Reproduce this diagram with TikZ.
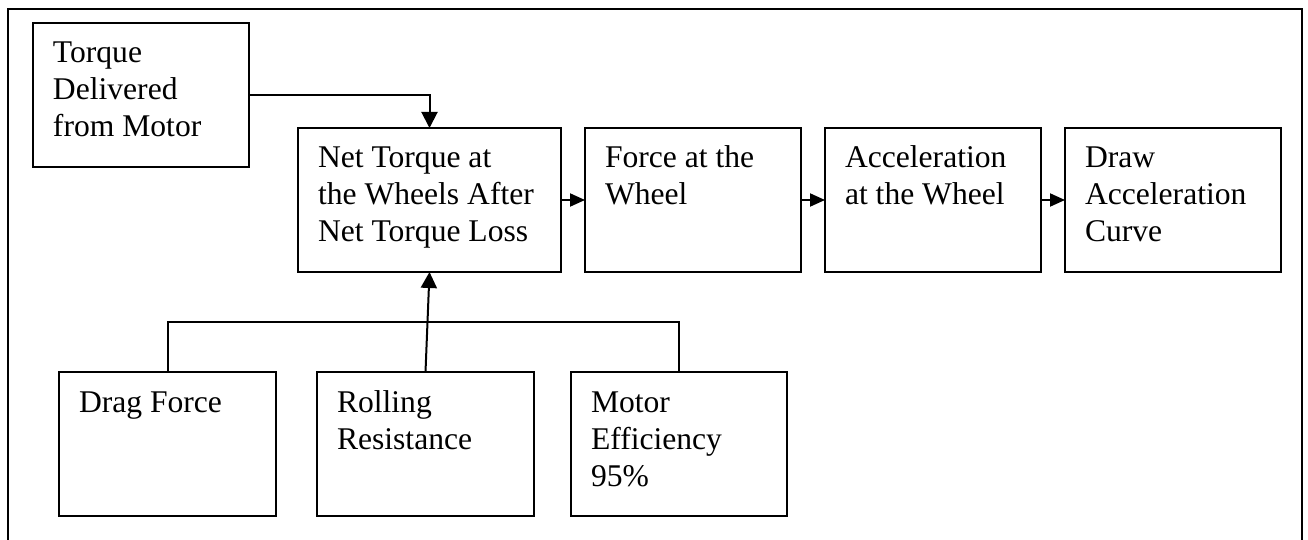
\documentclass[tikz,border=0pt]{standalone}
\usepackage{fontspec}
\setmainfont{Liberation Serif}
\usetikzlibrary{arrows.meta,positioning}

% text set at the top left of a box of fixed height
\newcommand{\boxtext}[2]{\parbox[c][72pt][t]{#1}{\raggedright\rule{0pt}{20pt}#2}}

\begin{document}
\begin{tikzpicture}[x=1pt, y=1pt,
    box/.style={rectangle, draw, line width=1pt, outer sep=0pt, inner xsep=10pt, inner ysep=0pt, font=\fontsize{15.8}{18.5}\selectfont},
    link/.style={line width=1pt},
    harrow/.style={line width=1pt, -{Triangle[length=7.5pt, width=6.5pt]}},
    varrow/.style={line width=1pt, -{Triangle[length=8pt, width=8pt]}}]

    \useasboundingbox (0,0) rectangle (654,-270);
    \draw[line width=1.3pt] (4,-270) -- (4,-4.5) -- (651,-4.5) -- (651,-270);

    \node[box, anchor=north west] (torque) at (16.5,-11.5) {\boxtext{88pt}{Torque\\Delivered\\from Motor}};
    \node[box, anchor=north west] (net) at (149,-64) {\boxtext{111.5pt}{Net Torque at\\the Wheels After\\Net Torque Loss}};
    \node[box, right=12pt of net] (force) {\boxtext{88pt}{Force at the\\Wheel}};
    \node[box, right=12pt of force] (accel) {\boxtext{88pt}{Acceleration\\at the Wheel}};
    \node[box, right=12pt of accel] (curve) {\boxtext{88pt}{Draw\\Acceleration\\Curve}};

    \node[box, anchor=north west] (drag) at (29.5,-186) {\boxtext{88.5pt}{Drag Force}};
    \node[box, right=20.5pt of drag] (rolling) {\boxtext{88.5pt}{Rolling\\Resistance}};
    \node[box, right=18.5pt of rolling] (motor) {\boxtext{88pt}{Motor\\Efficiency\\95\%}};

    \coordinate[above=25pt of rolling.north] (bus);

    \draw[varrow] (torque.east) -| (net.north);
    \draw[harrow] (net) -- (force);
    \draw[harrow] (force) -- (accel);
    \draw[harrow] (accel) -- (curve);

    \draw[link] (drag.north) |- (bus) -| (motor.north);
    \draw[varrow] (rolling.north) -- (net.south);

\end{tikzpicture}
\end{document}
